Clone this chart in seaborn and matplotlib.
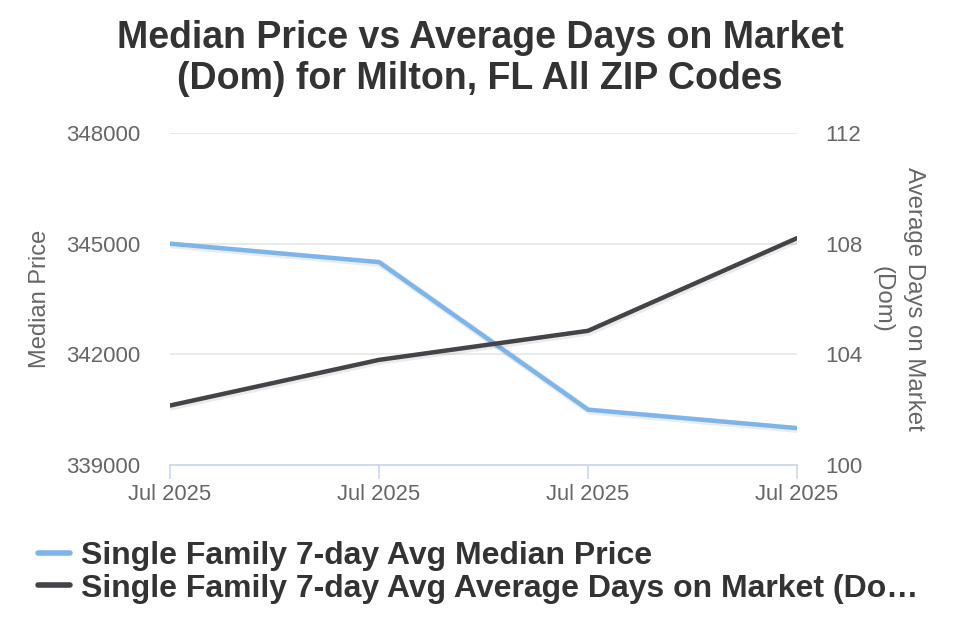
import matplotlib
matplotlib.use("Agg")
import matplotlib.pyplot as plt
import matplotlib.patheffects as pe
from matplotlib.lines import Line2D
import seaborn as sns
import pandas as pd

# ---- data ----
x_labels = ["Jul 2025", "Jul 2025", "Jul 2025", "Jul 2025"]
median_price = [345000, 344500, 340500, 340000]
avg_dom = [102.15, 103.8, 104.85, 108.2]
price_ticks = [339000, 342000, 345000, 348000]
dom_ticks = [100, 104, 108, 112]
series_names = ["Single Family 7-day Avg Median Price",
                "Single Family 7-day Avg Average Days on Market (Do\u2026"]
title = "Median Price vs Average Days on Market\n(Dom) for Milton, FL All ZIP Codes"

sns.set_theme(style="white")
plt.rcParams['font.family'] = ['Liberation Sans', 'DejaVu Sans']

BLUE = "#7cb5ec"
DARK = "#434348"
GRID = "#e6e6e6"
AXIS = "#ccd6eb"
LABEL = "#666666"

df = pd.DataFrame({"pos": list(range(len(x_labels))),
                   "price": median_price, "dom": avg_dom})

fig = plt.figure(figsize=(9.6, 6.4), dpi=100)
ax = fig.add_axes([170/960, 1-465/640, (797-170)/960, (465-133)/640])
ax2 = ax.twinx()

shadow = [pe.SimpleLineShadow(offset=(1, -1), alpha=0.08, shadow_color='black', linewidth=5),
          pe.Normal()]

sns.lineplot(data=df, x="pos", y="price", ax=ax, color=BLUE, linewidth=3.2,
             path_effects=shadow, zorder=3)
sns.lineplot(data=df, x="pos", y="dom", ax=ax2, color=DARK, linewidth=3.2,
             path_effects=shadow, zorder=3)

ax.set_xlim(0, len(x_labels) - 1)
ax.set_ylim(price_ticks[0], price_ticks[-1])
ax2.set_ylim(dom_ticks[0], dom_ticks[-1])
ax.set_yticks(price_ticks)
ax.set_yticklabels([str(t) for t in price_ticks])
ax2.set_yticks(dom_ticks)
ax2.set_yticklabels([str(t) for t in dom_ticks])
ax.set_xticks(df["pos"])
ax.set_xticklabels(x_labels)

ax.grid(axis='y', color=GRID, linewidth=1.2)
ax.grid(axis='x', visible=False)
ax2.grid(False)
for a in (ax, ax2):
    for s in a.spines.values():
        s.set_visible(False)
ax.spines['bottom'].set_visible(True)
ax.spines['bottom'].set_color(AXIS)
ax.spines['bottom'].set_linewidth(1.2)

ax.tick_params(axis='x', colors=AXIS, length=10, width=1.2, direction='out',
               labelcolor=LABEL, labelsize=15.8, pad=4, bottom=True)
ax.tick_params(axis='y', length=0, labelcolor=LABEL, labelsize=16, pad=21.5)
ax2.tick_params(axis='y', length=0, labelcolor=LABEL, labelsize=16, pad=20)

ax.set_xlabel("")
ax.set_ylabel("Median Price", color=LABEL, fontsize=17, labelpad=10.5)
ax2.set_ylabel("Average Days on Market\n(Dom)", color=LABEL, fontsize=17.3,
               rotation=270, labelpad=45, linespacing=1.55)

fig.text(0.5, 1-58.5/640, title, ha='center', va='center', fontsize=27,
         fontweight='bold', color="#333333", linespacing=1.15)

handles = [Line2D([], [], color=BLUE, linewidth=4, solid_capstyle='round'),
           Line2D([], [], color=DARK, linewidth=4, solid_capstyle='round')]
leg = fig.legend(handles, series_names, loc='upper left',
                 bbox_to_anchor=(38/960, 1-541/640), frameon=False,
                 prop={'size': 23, 'weight': 'bold'}, handlelength=1.0,
                 handletextpad=0.34, labelspacing=0.08, borderaxespad=0,
                 borderpad=0)
for t in leg.get_texts():
    t.set_color("#333333")

fig.savefig("out.png", dpi=100)
